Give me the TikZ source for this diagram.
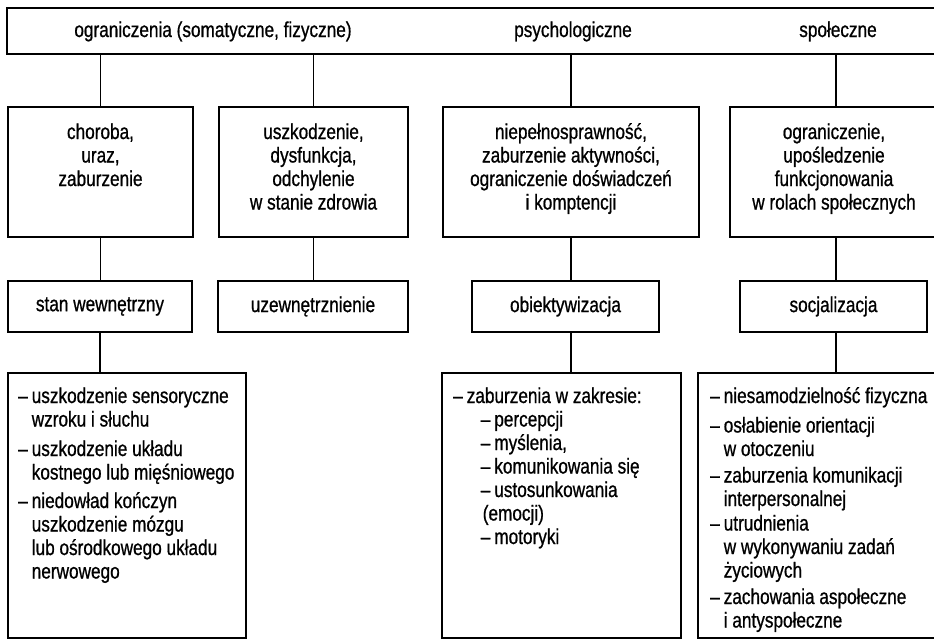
\documentclass[tikz,border=0pt]{standalone}
\usepackage{fontspec}
\setmainfont{Liberation Sans}[FakeStretch=0.8, FakeBold=0.8]
\usetikzlibrary{positioning}

\newcommand{\podpkt}[1]{\hspace*{14pt}–\hspace{4pt}#1}
\newcommand{\srodek}[1]{\begin{tabular}[t]{@{}c@{}}#1\end{tabular}}

\tikzset{
	ramka/.style={draw, line width=1.5pt},
	linia/.style={line width=1.5pt},
	napis/.style={font=\fontsize{21.5}{23.5}\selectfont, inner sep=0pt},
}

\begin{document}
\begin{tikzpicture}[x=1pt, y=-1pt, napis]
				\useasboundingbox (0,0) rectangle (934,640);
				\clip (0,0) rectangle (934,640);
				
				% pasek u gory
				\node[ramka, minimum width=938pt, minimum height=46pt] (pasek) at (476,31) {};
				\node[anchor=base] (somat) at (213,37) {ograniczenia (somatyczne, fizyczne)};
				\node[anchor=base] (psych) at (573,37) {psychologiczne};
				\node[anchor=base] (spol) at (838,37) {społeczne};
				
				% drugi rzad
				\node[ramka, minimum width=185pt, minimum height=130pt] (choroba) at (100.5,172) {};
				\node[ramka, minimum width=189pt, minimum height=130pt] (uszk) at (313.5,172) {};
				\node[ramka, minimum width=256pt, minimum height=130pt] (niep) at (571,172) {};
				\node[ramka, minimum width=212pt, minimum height=130pt] (ogr) at (836,172) {};
				
				\node[anchor=base] (chorobaT) at (100.5,139) {\srodek{choroba,\\uraz,\\zaburzenie}};
				\node[anchor=base] (uszkT) at (313.5,139) {\srodek{uszkodzenie,\\dysfunkcja,\\odchylenie\\w stanie zdrowia}};
				\node[anchor=base] (niepT) at (571,139) {\srodek{niepełnosprawność,\\zaburzenie aktywności,\\ograniczenie doświadczeń\\i komptencji}};
				\node[anchor=base] (ogrT) at (834,139) {\srodek{ograniczenie,\\upośledzenie\\funkcjonowania\\w rolach społecznych}};
				
				% trzeci rzad
				\node[ramka, minimum width=184pt, minimum height=51pt] (stan) at (100,306.5) {stan wewnętrzny};
				\node[ramka, minimum width=190pt, minimum height=51pt] (uzew) at (313,306.5) {uzewnętrznienie};
				\node[ramka, minimum width=187pt, minimum height=51pt] (obiekt) at (565.5,306.5) {obiektywizacja};
				\node[ramka, minimum width=187pt, minimum height=51pt] (socj) at (833.5,306.5) {socjalizacja};
				
				% listy na dole
				\node[ramka, minimum width=238pt, minimum height=265pt] (lista1) at (127,505.5) {};
				\node[ramka, minimum width=239pt, minimum height=265pt] (lista3) at (561.5,505.5) {};
				\node[ramka, minimum width=252pt, minimum height=265pt] (lista4) at (824,505.5) {};
				
				\node[anchor=base west] (lista1T) at (18,403) {\begin{tabular}[t]{@{}l@{\hspace{4pt}}l@{}}
					– & uszkodzenie sensoryczne\\
					  & wzroku i słuchu\\[6pt]
					– & uszkodzenie układu\\
					  & kostnego lub mięśniowego\\[5pt]
					– & niedowład kończyn\\
					  & uszkodzenie mózgu\\
					  & lub ośrodkowego układu\\
					  & nerwowego
				\end{tabular}};
				\node[anchor=base west] (lista3T) at (453,403) {\begin{tabular}[t]{@{}l@{\hspace{4pt}}l@{}}
					– & zaburzenia w zakresie:\\
					  & \podpkt{percepcji}\\
					  & \podpkt{myślenia,}\\
					  & \podpkt{komunikowania się}\\
					  & \podpkt{ustosunkowania}\\
					  & \hspace*{16pt}(emocji)\\
					  & \podpkt{motoryki}
				\end{tabular}};
				\node[anchor=base west] (lista4T) at (710,403) {\begin{tabular}[t]{@{}l@{\hspace{4pt}}l@{}}
					– & niesamodzielność fizyczna\\[6pt]
					– & osłabienie orientacji\\
					  & w otoczeniu\\[3pt]
					– & zaburzenia komunikacji\\
					  & interpersonalnej\\[1pt]
					– & utrudnienia\\
					  & w wykonywaniu zadań\\
					  & życiowych\\[3pt]
					– & zachowania aspołeczne\\
					  & i antyspołeczne
				\end{tabular}};
				
				% polaczenia
				\foreach \dol in {choroba,uszk,niep,ogr}
					\draw[linia] (pasek.south -| \dol.north) -- (\dol.north);
				\foreach \gora/\dol in {choroba/stan,uszk/uzew,niep/obiekt,ogr/socj}
					\draw[linia] (\gora.south) -- (\gora.south |- \dol.north);
				\draw[linia] (stan.south) -- (stan.south |- lista1.north);
				\draw[linia] (obiekt.south -| niep.south) -- (niep.south |- lista3.north);
				\draw[linia] (socj.south -| ogr.south) -- (ogr.south |- lista4.north);
\end{tikzpicture}
\end{document}
